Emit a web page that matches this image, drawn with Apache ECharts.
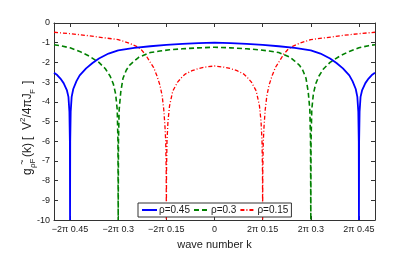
<!DOCTYPE html>
<html><head><meta charset="utf-8">
<script src="https://cdn.jsdelivr.net/npm/echarts@6/dist/echarts.min.js"></script>
<style>html,body{margin:0;padding:0;background:#fff}#c{width:415px;height:255px}</style>
</head><body><div id="c"></div>
<script>
// x is k/(2π)
const tickPos = [-0.45, -0.3, -0.15, 0, 0.15, 0.3, 0.45];
const tickLabels = ['\u22122\u03c0 0.45', '\u22122\u03c0 0.3', '\u22122\u03c0 0.15', '0', '2\u03c0 0.15', '2\u03c0 0.3', '2\u03c0 0.45'];
const seriesNames = ['\u03c1=0.45', '\u03c1=0.3', '\u03c1=0.15'];

const kBlue = [-0.5,-0.49,-0.48,-0.47,-0.46,-0.455,-0.452,-0.4505,-0.45,-0.4495,-0.448,-0.445,-0.44,-0.43,-0.42,-0.40,-0.38,-0.36,-0.33,-0.30,-0.25,-0.20,-0.15,-0.10,-0.05,0,
  0.05,0.10,0.15,0.20,0.25,0.30,0.33,0.36,0.38,0.40,0.42,0.43,0.44,0.445,0.448,0.4495,0.45,0.4505,0.452,0.455,0.46,0.47,0.48,0.49,0.5];
const gBlue = [-2.52,-2.64,-2.82,-3.05,-3.4,-3.75,-4.5,-6.0,-10,-6.0,-4.5,-3.75,-3.35,-2.95,-2.66,-2.3,-2.03,-1.8,-1.55,-1.39,-1.26,-1.18,-1.11,-1.06,-1.02,-1.0,
  -1.02,-1.06,-1.11,-1.18,-1.26,-1.39,-1.55,-1.8,-2.03,-2.3,-2.66,-2.95,-3.35,-3.75,-4.5,-6.0,-10,-6.0,-4.5,-3.75,-3.4,-3.05,-2.82,-2.64,-2.52];

const kGreen = [-0.5,-0.48,-0.45,-0.42,-0.39,-0.36,-0.34,-0.325,-0.315,-0.308,-0.303,-0.3008,-0.3,-0.2992,-0.297,-0.292,-0.285,-0.275,-0.265,-0.25,-0.235,-0.2,-0.17,-0.14,-0.1,-0.05,0,
  0.05,0.1,0.14,0.17,0.2,0.235,0.25,0.265,0.275,0.285,0.292,0.297,0.2992,0.3,0.3008,0.303,0.308,0.315,0.325,0.34,0.36,0.39,0.42,0.45,0.48,0.5];
const gGreen = [-1.1,-1.15,-1.26,-1.44,-1.68,-2.0,-2.32,-2.7,-3.1,-3.6,-4.4,-6.0,-10,-6.0,-4.4,-3.5,-2.8,-2.4,-2.15,-1.93,-1.73,-1.5,-1.42,-1.36,-1.31,-1.26,-1.23,
  -1.26,-1.31,-1.36,-1.42,-1.5,-1.73,-1.93,-2.15,-2.4,-2.8,-3.5,-4.4,-6.0,-10,-6.0,-4.4,-3.6,-3.1,-2.7,-2.32,-2.0,-1.68,-1.44,-1.26,-1.15,-1.1];

const kRed = [-0.5,-0.45,-0.4,-0.35,-0.3,-0.265,-0.245,-0.23,-0.215,-0.2,-0.19,-0.18,-0.17,-0.163,-0.158,-0.1545,-0.152,-0.1505,-0.15,-0.1495,-0.148,-0.145,-0.14,-0.13,-0.115,-0.1,-0.09,-0.07,-0.05,-0.03,0,
  0.03,0.05,0.07,0.09,0.1,0.115,0.13,0.14,0.145,0.148,0.1495,0.15,0.1505,0.152,0.1545,0.158,0.163,0.17,0.18,0.19,0.2,0.215,0.23,0.245,0.265,0.3,0.35,0.4,0.45,0.5];
const gRed = [-0.47,-0.54,-0.63,-0.74,-0.84,-1.03,-1.17,-1.32,-1.6,-2.0,-2.25,-2.65,-3.15,-3.7,-4.4,-5.2,-6.0,-7.5,-10,-7.5,-6.0,-5.0,-4.2,-3.45,-3.0,-2.72,-2.58,-2.42,-2.31,-2.24,-2.18,
  -2.24,-2.31,-2.42,-2.58,-2.72,-3.0,-3.45,-4.2,-5.0,-6.0,-7.5,-10,-7.5,-6.0,-5.2,-4.4,-3.7,-3.15,-2.65,-2.25,-2.0,-1.6,-1.32,-1.17,-1.03,-0.84,-0.74,-0.63,-0.54,-0.47];

const pairs = (k, g) => k.map((x, i) => [x, g[i]]);
const FONT = '"Liberation Sans", Arial, sans-serif';
const AX = '#333';

const chart = echarts.init(document.getElementById('c'), null, {renderer: 'canvas'});
const txt = (text, x, y, size, align) => ({
  type: 'text', x: x, y: y,
  style: {text: text, font: size + 'px ' + FONT, fill: '#1a1a1a', verticalAlign: 'middle', align: align || 'left'}
});
const axLine = {show: true, onZero: false, lineStyle: {color: AX, width: 1}};
chart.setOption({
  animation: false,
  grid: {left: 54, right: 40, top: 23, bottom: 33},
  xAxis: [{
    type: 'value', min: -0.5, max: 0.5, position: 'bottom',
    name: 'wave number k', nameLocation: 'middle', nameGap: 14,
    nameTextStyle: {fontFamily: FONT, fontSize: 11, color: '#1a1a1a'},
    axisLine: axLine,
    axisTick: {show: true, inside: true, length: 4, customValues: tickPos, lineStyle: {color: AX}},
    axisLabel: {customValues: tickPos, formatter: v => tickLabels[tickPos.findIndex(t => Math.abs(t - v) < 1e-6)] || '',
      fontFamily: FONT, fontSize: 9, color: '#1a1a1a', margin: 5},
    splitLine: {show: false}
  }, {
    type: 'value', min: -0.5, max: 0.5, position: 'top',
    axisLine: axLine,
    axisTick: {show: true, inside: true, length: 4, customValues: tickPos, lineStyle: {color: AX}},
    axisLabel: {show: false}, splitLine: {show: false}
  }],
  yAxis: [{
    type: 'value', min: -10, max: 0, interval: 1, position: 'left',
    axisLine: axLine,
    axisTick: {show: true, inside: true, length: 4, lineStyle: {color: AX}},
    axisLabel: {fontFamily: FONT, fontSize: 9, color: '#1a1a1a', margin: 4, formatter: v => String(v)},
    splitLine: {show: false}
  }, {
    type: 'value', min: -10, max: 0, interval: 1, position: 'right',
    axisLine: axLine,
    axisTick: {show: true, inside: true, length: 4, lineStyle: {color: AX}},
    axisLabel: {show: false}, splitLine: {show: false}
  }],
  legend: {
    left: 138, top: 203, orient: 'horizontal',
    padding: [2, 3], itemGap: 3, itemWidth: 15, itemHeight: 10,
    backgroundColor: '#fff', borderColor: AX, borderWidth: 1,
    itemStyle: {opacity: 0},
    textStyle: {fontFamily: FONT, fontSize: 10, color: '#1a1a1a', padding: [0, 0, 0, -3]},
    data: seriesNames
  },
  series: [
    {name: seriesNames[0], type: 'line', data: pairs(kBlue, gBlue), symbol: 'none', clip: true,
      lineStyle: {color: '#0000ff', width: 1.8, type: 'solid'}, itemStyle: {color: '#0000ff'}, z: 3},
    {name: seriesNames[1], type: 'line', data: pairs(kGreen, gGreen), symbol: 'none', clip: true,
      lineStyle: {color: '#008000', width: 1.6, type: [5, 3]}, itemStyle: {color: '#008000'}, z: 2},
    {name: seriesNames[2], type: 'line', data: pairs(kRed, gRed), symbol: 'none', clip: true,
      lineStyle: {color: '#ff0000', width: 1.3, type: [4, 2, 1, 2]}, itemStyle: {color: '#ff0000'}, z: 1}
  ],
  graphic: [{
    type: 'group', x: 27.5, y: 175, rotation: Math.PI / 2,
    children: [
      txt('g', 0, 0, 12),
      txt('~', 13, -4.5, 9, 'center'),
      txt('\u03c1F', 7, 5.5, 8),
      txt('(k)', 18, 0, 12),
      txt('[', 35, 0, 12),
      txt('V', 45, 0, 12),
      txt('2', 53, -5, 8),
      txt('/4\u03c0J', 57.5, 0, 12),
      txt('F', 81, 5.5, 8),
      txt(']', 91, 0, 12)
    ]
  }]
});
</script></body></html>
